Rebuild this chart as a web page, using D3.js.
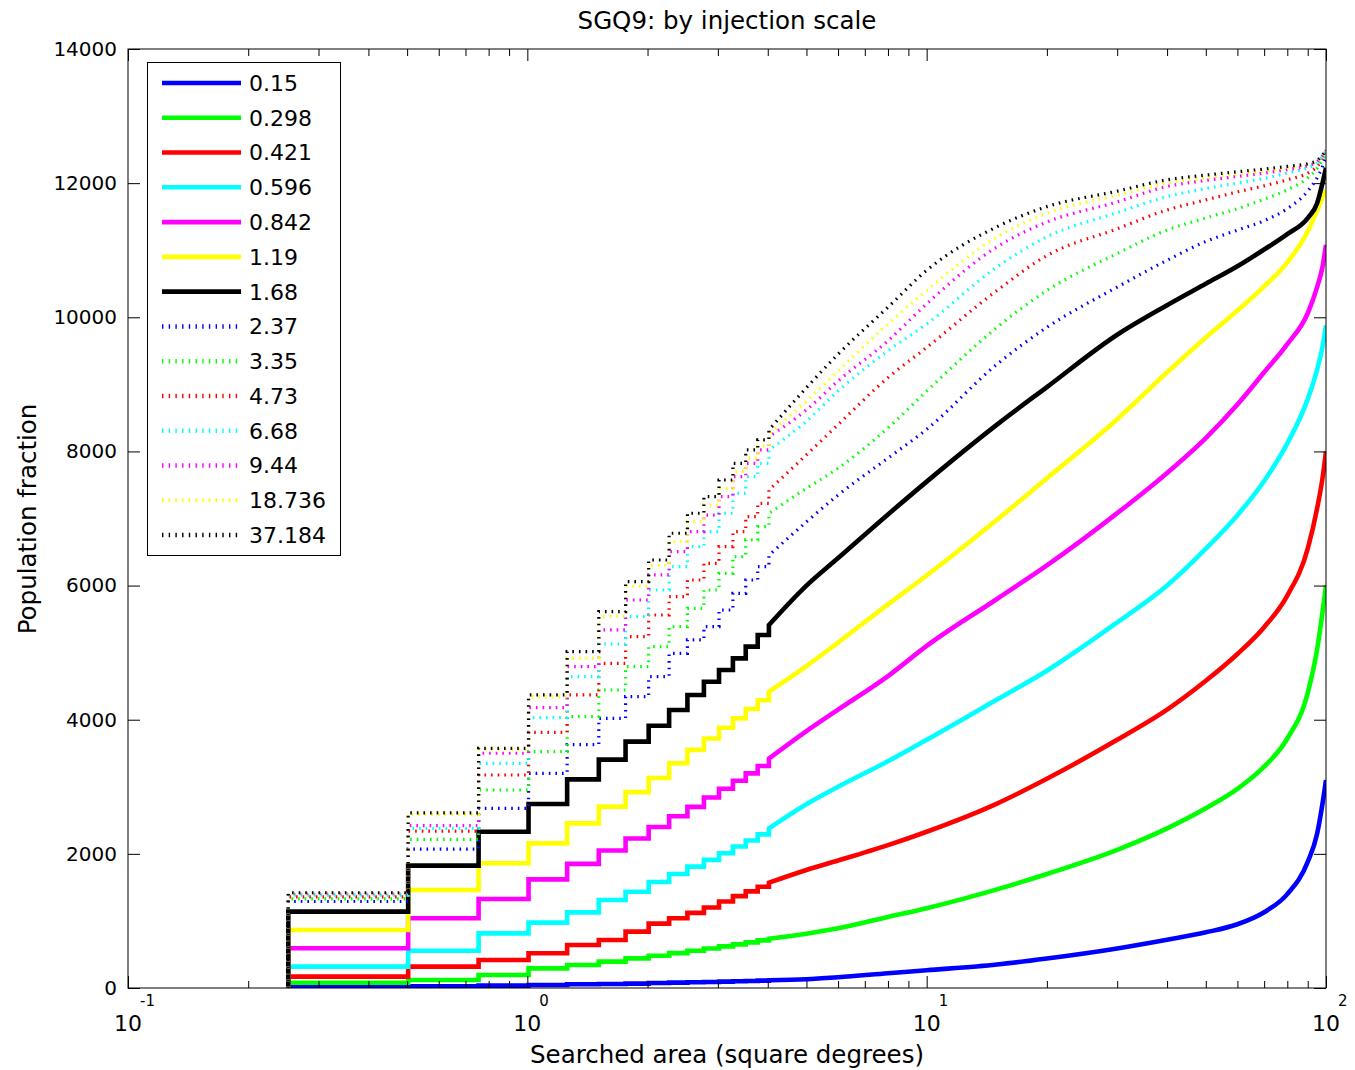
<!DOCTYPE html>
<html><head><meta charset="utf-8">
<script src="https://cdn.jsdelivr.net/npm/d3@7"></script>
<style>
body{margin:0;background:#fff}
text{font-family:"DejaVu Sans",sans-serif;fill:#000}
</style>
</head><body>
<svg id="chart" width="1355" height="1070"></svg>
<script>
// ---------- DATA ----------
const titleText = "SGQ9: by injection scale";
const xLabelText = "Searched area (square degrees)";
const yLabelText = "Population fraction";

// searched areas of the first (visible) stairs steps, square degrees
const stepAreas = [0.252, 0.503, 0.755, 1.007, 1.258, 1.510, 1.762, 2.013, 2.265, 2.517, 2.768, 3.020, 3.272, 3.523, 3.775, 4.027];
// areas at which the (finely stepped) tail of each curve was read
const tailAreas = [5, 6, 8, 10, 15, 20, 30, 40, 50, 60, 70, 80, 90, 95, 98, 100];

const yTicks = [0, 2000, 4000, 6000, 8000, 10000, 12000, 14000];
const xDecades = [0.1, 1, 10, 100];
const xDecadeExps = ["-1", "0", "1", "2"];

const steps_0_15   = [15, 25, 35, 45, 55, 60, 65, 75, 80, 85, 90, 95, 100, 105, 110, 115];
const tail_0_15    = [130, 160, 220, 265, 350, 440, 590, 720, 830, 950, 1130, 1400, 1880, 2300, 2750, 3100];
const steps_0_298  = [79, 119, 194, 293, 343, 393, 442, 480, 520, 555, 590, 620, 650, 680, 710, 735];
const tail_0_298   = [810, 890, 1060, 1190, 1470, 1700, 2060, 2380, 2680, 2970, 3300, 3720, 4400, 5050, 5600, 6000];
const steps_0_421  = [169, 318, 417, 517, 641, 716, 840, 960, 1040, 1120, 1200, 1290, 1370, 1440, 1510, 1570];
const tail_0_421   = [1760, 1900, 2130, 2330, 2750, 3120, 3700, 4150, 4580, 4980, 5380, 5850, 6550, 7150, 7600, 8000];
const steps_0_596  = [318, 556, 815, 974, 1128, 1312, 1436, 1580, 1700, 1810, 1910, 2010, 2110, 2200, 2290, 2380];
const tail_0_596   = [2740, 3000, 3380, 3700, 4300, 4730, 5450, 6000, 6550, 7050, 7560, 8120, 8780, 9220, 9560, 9880];
const steps_0_842  = [592, 1039, 1327, 1620, 1850, 2050, 2230, 2400, 2560, 2700, 2840, 2970, 3090, 3200, 3310, 3420];
const tail_0_842   = [3830, 4150, 4650, 5100, 5800, 6300, 7080, 7680, 8200, 8700, 9180, 9600, 10060, 10450, 10750, 11080];
const steps_1_19   = [865, 1461, 1859, 2157, 2455, 2704, 2920, 3130, 3350, 3550, 3720, 3880, 4020, 4160, 4290, 4420];
const tail_1_19    = [4800, 5150, 5720, 6150, 6980, 7600, 8480, 9180, 9700, 10100, 10460, 10820, 11280, 11590, 11780, 11900];
const steps_1_68   = [1138, 1824, 2330, 2743, 3110, 3405, 3673, 3910, 4145, 4369, 4567, 4741, 4915, 5089, 5263, 5412];
const tail_1_68    = [6000, 6410, 7060, 7550, 8400, 8960, 9740, 10180, 10500, 10760, 11010, 11240, 11480, 11700, 12000, 12230];
const steps_2_37   = [1290, 2072, 2679, 3201, 3630, 4021, 4343, 4642, 4990, 5189, 5387, 5636, 5885, 6083, 6282, 6450];
const tail_2_37    = [6950, 7350, 7900, 8330, 9300, 9850, 10450, 10850, 11130, 11300, 11440, 11620, 11880, 12080, 12250, 12400];
const steps_3_35   = [1330, 2217, 2952, 3523, 4045, 4443, 4791, 5089, 5387, 5661, 5934, 6183, 6431, 6680, 6878, 7078];
const tail_3_35    = [7450, 7750, 8350, 8900, 9850, 10400, 10950, 11300, 11480, 11620, 11760, 11900, 12080, 12220, 12350, 12450];
const steps_4_73   = [1360, 2340, 3176, 3812, 4369, 4841, 5238, 5561, 5834, 6083, 6332, 6580, 6804, 7027, 7227, 7425];
const tail_4_73    = [7950, 8400, 9100, 9550, 10400, 10920, 11320, 11600, 11750, 11870, 11960, 12050, 12150, 12250, 12370, 12470];
const steps_6_68   = [1385, 2380, 3350, 4030, 4642, 5129, 5536, 5934, 6282, 6580, 6804, 7078, 7376, 7624, 7823, 8022];
const tail_6_68    = [8450, 8900, 9500, 9900, 10750, 11200, 11560, 11800, 11920, 12000, 12070, 12150, 12230, 12300, 12400, 12480];
const steps_9_44   = [1405, 2420, 3500, 4180, 4791, 5338, 5785, 6158, 6506, 6804, 7050, 7326, 7624, 7823, 8022, 8220];
const tail_9_44    = [8620, 9050, 9650, 10200, 11050, 11420, 11720, 11950, 12040, 12100, 12150, 12200, 12260, 12320, 12410, 12490];
const steps_18_736 = [1415, 2590, 3560, 4340, 4916, 5540, 5990, 6300, 6655, 6953, 7200, 7450, 7700, 7900, 8080, 8260];
const tail_18_736  = [8750, 9200, 9900, 10400, 11200, 11550, 11820, 12000, 12080, 12140, 12180, 12230, 12280, 12330, 12420, 12490];
const steps_37_184 = [1420, 2610, 3574, 4370, 5015, 5611, 6058, 6381, 6780, 7078, 7326, 7574, 7823, 8022, 8171, 8320];
const tail_37_184  = [8950, 9450, 10150, 10700, 11350, 11650, 11880, 12050, 12120, 12170, 12210, 12250, 12290, 12340, 12420, 12490];

const seriesLabels = ["0.15","0.298","0.421","0.596","0.842","1.19","1.68","2.37","3.35","4.73","6.68","9.44","18.736","37.184"];
const seriesSteps = [steps_0_15, steps_0_298, steps_0_421, steps_0_596, steps_0_842, steps_1_19, steps_1_68,
                     steps_2_37, steps_3_35, steps_4_73, steps_6_68, steps_9_44, steps_18_736, steps_37_184];
const seriesTails = [tail_0_15, tail_0_298, tail_0_421, tail_0_596, tail_0_842, tail_1_19, tail_1_68,
                     tail_2_37, tail_3_35, tail_4_73, tail_6_68, tail_9_44, tail_18_736, tail_37_184];

// ---------- STYLE ----------
const palette = ["#0000ff","#00ff00","#ff0000","#00ffff","#ff00ff","#ffff00","#000000"];
const colorOf = i => palette[i % 7];
const dottedOf = i => i >= 7;

// ---------- LAYOUT ----------
const L = 128, R = 1326, T = 49, B = 988;
const svg = d3.select("#chart");
const x = d3.scaleLog().domain([0.1, 100]).range([L, R]);
const y = d3.scaleLinear().domain([0, 14000]).range([B, T]);

svg.append("rect").attr("width",1355).attr("height",1070).attr("fill","#fff");

svg.append("defs").append("clipPath").attr("id","clip")
  .append("rect").attr("x",L).attr("y",T).attr("width",R-L).attr("height",B-T);

// ---------- LINES ----------
const stepLine = d3.line().x(d => x(d[0])).y(d => y(d[1])).curve(d3.curveStepAfter);
const tailLine = d3.line().x(d => x(d[0])).y(d => y(d[1])).curve(d3.curveMonotoneX);
const gLines = svg.append("g").attr("clip-path","url(#clip)");
seriesLabels.forEach((lab, i) => {
  const st = seriesSteps[i], tl = seriesTails[i];
  const stepPts = [[stepAreas[0], 0]].concat(st.map((v, k) => [stepAreas[k], v]));
  const last = stepPts[stepPts.length - 1];
  const tailPts = [last].concat(tl.map((v, k) => [tailAreas[k], v]));
  const d = stepLine(stepPts) + tailLine(tailPts).replace(/^M[^LC]*/, "");
  gLines.append("path")
    .attr("d", d)
    .attr("fill","none")
    .attr("stroke", colorOf(i))
    .attr("stroke-width", dottedOf(i) ? 3.2 : 4.6)
    .attr("stroke-dasharray", dottedOf(i) ? "1.6 5" : null)
    .attr("stroke-linejoin","miter")
    .attr("stroke-linecap","butt");
});

// ---------- AXES ----------
const minorTicks = [];
[0.1, 1, 10].forEach(d => { for (let m = 2; m <= 9; m++) minorTicks.push(d * m); });

function styleAxis(g){ g.select(".domain").remove(); g.selectAll(".tick line").attr("stroke","#000").attr("stroke-width",1); }

svg.append("g").attr("transform",`translate(0,${B})`)
  .call(d3.axisBottom(x).tickValues(xDecades).tickSize(-12).tickSizeOuter(0).tickFormat(""))
  .call(styleAxis);
svg.append("g").attr("transform",`translate(0,${B})`)
  .call(d3.axisBottom(x).tickValues(minorTicks).tickSize(-7).tickSizeOuter(0).tickFormat(""))
  .call(styleAxis);
svg.append("g").attr("transform",`translate(0,${T})`)
  .call(d3.axisTop(x).tickValues(xDecades).tickSize(-12).tickSizeOuter(0).tickFormat(""))
  .call(styleAxis);
svg.append("g").attr("transform",`translate(0,${T})`)
  .call(d3.axisTop(x).tickValues(minorTicks).tickSize(-7).tickSizeOuter(0).tickFormat(""))
  .call(styleAxis);

const yAxisL = svg.append("g").attr("transform",`translate(${L},0)`)
  .call(d3.axisLeft(y).tickValues(yTicks).tickSize(-12).tickSizeOuter(0).tickPadding(11).tickFormat(d3.format("d")))
  .call(styleAxis);
yAxisL.selectAll(".tick text").attr("font-size",20).attr("font-family","DejaVu Sans").attr("fill","#000");
svg.append("g").attr("transform",`translate(${R},0)`)
  .call(d3.axisRight(y).tickValues(yTicks).tickSize(-12).tickSizeOuter(0).tickFormat(""))
  .call(styleAxis);

// x decade labels 10^n
xDecades.forEach((d, i) => {
  svg.append("text").attr("x", x(d)).attr("y", 1031).attr("font-size", 22).attr("text-anchor","middle").text("10");
  svg.append("text").attr("x", x(d) + 12).attr("y", 1006).attr("font-size", 15).attr("text-anchor","start").text(xDecadeExps[i]);
});

// frame
svg.append("rect").attr("x",L).attr("y",T).attr("width",R-L).attr("height",B-T)
  .attr("fill","none").attr("stroke","#000").attr("stroke-width",1);

// ---------- TITLES ----------
svg.append("text").attr("x", 727).attr("y", 29).attr("text-anchor","middle").attr("font-size",24.5).text(titleText);
svg.append("text").attr("x", 727).attr("y", 1063).attr("text-anchor","middle").attr("font-size",24.5).text(xLabelText);
svg.append("text").attr("transform","translate(36,519) rotate(-90)").attr("text-anchor","middle").attr("font-size",24.5).text(yLabelText);

// ---------- LEGEND ----------
const lg = svg.append("g");
lg.append("rect").attr("x",147.5).attr("y",62.5).attr("width",193).attr("height",493)
  .attr("fill","#fff").attr("stroke","#000").attr("stroke-width",1);
seriesLabels.forEach((lab, i) => {
  const yy = 83 + i * 34.77;
  lg.append("line").attr("x1",162).attr("x2",241).attr("y1",yy).attr("y2",yy)
    .attr("stroke", colorOf(i))
    .attr("stroke-width", dottedOf(i) ? 4.5 : 4.6)
    .attr("stroke-dasharray", dottedOf(i) ? "1.4 5.3" : null);
  lg.append("text").attr("x",249).attr("y",yy).attr("dy","0.36em").attr("font-size",22).text(lab);
});
</script>
</body></html>
